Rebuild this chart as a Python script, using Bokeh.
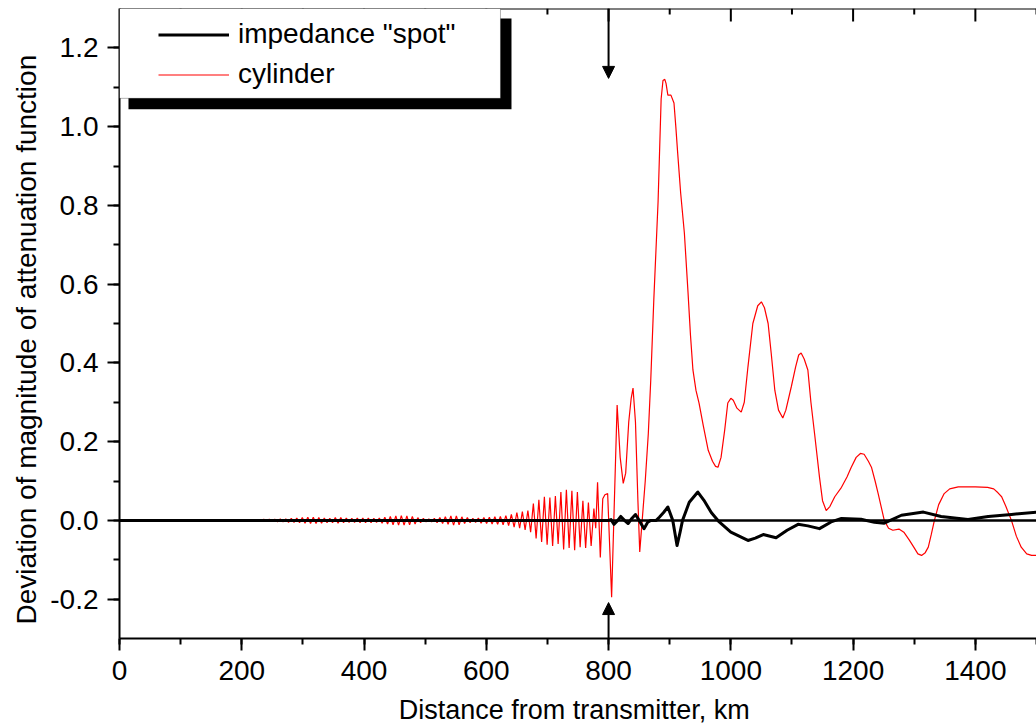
from bokeh.plotting import figure
from bokeh.models import (Range1d, SingleIntervalTicker, NumeralTickFormatter,
                          BasicTickFormatter, Span, Arrow, NormalHead, BoxAnnotation,
                          Legend, LegendItem, Title)
from bokeh.embed import file_html
from bokeh.resources import INLINE

# ---------------- data ----------------
x_start, x_end = 0, 1500
y_start, y_end = -0.3, 1.3
marker_km = 800

# cylinder: flat lead-in
cyl_lead_x = [0, 195]
cyl_lead_y = [0.0, 0.0]

# cylinder: oscillating part (successive extrema)
osc_x = [
    200.0, 204.5, 209.0, 213.5, 218.0, 222.5, 227.0, 231.5, 236.0, 240.5,
    245.0, 249.5, 254.0, 258.5, 263.0, 267.5, 272.0, 276.5, 281.0, 285.5,
    290.0, 294.5, 299.0, 303.5, 308.0, 312.5, 317.0, 321.5, 326.0, 330.5,
    335.0, 339.5, 344.0, 348.5, 353.0, 357.5, 362.0, 366.5, 371.0, 375.5,
    380.0, 384.5, 389.0, 393.5, 398.0, 402.5, 407.0, 411.5, 416.0, 420.5,
    425.0, 429.5, 434.0, 438.5, 443.0, 447.5, 452.0, 456.5, 461.0, 465.5,
    470.0, 474.5, 479.0, 483.5, 488.0, 492.5, 497.0, 501.5, 506.0, 510.5,
    515.0, 519.5, 524.0, 528.5, 533.0, 537.5, 542.0, 546.5, 551.0, 555.5,
    560.0, 564.5, 569.0, 573.5, 578.0, 582.5, 587.0, 591.5, 596.0, 600.5,
    605.0, 609.5, 614.0, 618.5, 623.0, 627.5, 632.0, 636.5, 641.0, 645.5,
    650.0, 654.5, 659.0, 663.5, 668.0, 672.5, 677.0, 681.5, 686.0, 690.5,
    695.0, 699.5, 704.0, 708.5, 713.0, 717.5, 722.0, 726.5, 731.0, 735.5,
    740.0, 744.5, 749.0, 753.5, 758.0, 762.5, 767.0, 771.5, 776.0, 779.0,
    782.0, 786.5, 790.5, 794.0, 798.5, 805.0]
osc_y = [
    0.002, -0.002, 0.002, -0.002, 0.002, -0.002, 0.002, -0.002, 0.003, -0.003,
    0.003, -0.003, 0.003, -0.004, 0.004, -0.004, 0.004, -0.005, 0.005, -0.005,
    0.006, -0.006, 0.007, -0.007, 0.008, -0.008, 0.008, -0.008, 0.007, -0.007,
    0.006, -0.006, 0.005, -0.006, 0.007, -0.007, 0.007, -0.006, 0.006, -0.005,
    0.005, -0.005, 0.006, -0.006, 0.006, -0.006, 0.006, -0.006, 0.005, -0.005,
    0.006, -0.007, 0.008, -0.009, 0.010, -0.011, 0.011, -0.012, 0.012, -0.012,
    0.011, -0.011, 0.010, -0.009, 0.007, -0.006, 0.005, -0.004, 0.004, -0.004,
    0.005, -0.006, 0.007, -0.008, 0.009, -0.010, 0.011, -0.012, 0.011, -0.011,
    0.009, -0.008, 0.007, -0.006, 0.005, -0.005, 0.006, -0.007, 0.007, -0.008,
    0.008, -0.009, 0.009, -0.010, 0.010, -0.011, 0.012, -0.013, 0.015, -0.017,
    0.020, -0.020, 0.022, -0.024, 0.025, -0.030, 0.043, -0.046, 0.052, -0.055,
    0.060, -0.062, 0.058, -0.065, 0.062, -0.060, 0.072, -0.074, 0.078, -0.070,
    0.075, -0.076, 0.072, -0.068, 0.050, -0.070, 0.045, -0.065, 0.030, -0.020,
    0.097, -0.094, 0.055, 0.065, 0.068, -0.195]

# cylinder: main part beyond the marker
cyl_main_x = [814, 819, 824, 828, 833, 837, 840, 844, 848, 851,
              855, 860, 865, 869, 874, 881, 886, 889, 892, 894,
              897, 902, 907, 910, 913, 918, 924, 930, 934, 938,
              943, 948, 955, 963, 970, 975, 979, 984, 990, 995,
              1000, 1004, 1010, 1017, 1022, 1028, 1036, 1044, 1050, 1055,
              1061, 1066, 1072, 1078, 1085, 1090, 1099, 1106, 1111, 1115,
              1120, 1126, 1131, 1137, 1145, 1150, 1156, 1162, 1170, 1181,
              1190, 1197, 1205, 1212, 1218, 1225, 1230, 1236, 1241, 1251,
              1258, 1265, 1275, 1283, 1292, 1300, 1306, 1312, 1318, 1323,
              1328, 1333, 1340, 1349, 1358, 1372, 1400, 1420, 1430, 1437,
              1443, 1450, 1459, 1467, 1475, 1484, 1492, 1500]
cyl_main_y = [0.293, 0.16, 0.094, 0.12, 0.25, 0.31, 0.336, 0.25, 0.05, -0.08,
              0.0, 0.10, 0.22, 0.356, 0.56, 0.81, 1.07, 1.117, 1.12, 1.11,
              1.08, 1.08, 1.06, 1.0, 0.934, 0.83, 0.73, 0.578, 0.47, 0.382,
              0.33, 0.298, 0.24, 0.178, 0.15, 0.137, 0.135, 0.16, 0.23, 0.298,
              0.31, 0.305, 0.285, 0.275, 0.30, 0.39, 0.50, 0.545, 0.555, 0.54,
              0.50, 0.425, 0.33, 0.28, 0.26, 0.28, 0.34, 0.39, 0.42, 0.425,
              0.41, 0.382, 0.30, 0.22, 0.11, 0.05, 0.025, 0.035, 0.06, 0.084,
              0.11, 0.135, 0.16, 0.17, 0.168, 0.15, 0.135, 0.10, 0.068, 0.0,
              -0.02, -0.025, -0.022, -0.03, -0.05, -0.07, -0.085, -0.089, -0.082, -0.068,
              -0.035, 0.0, 0.04, 0.068, 0.08, 0.085, 0.085, 0.084, 0.08, 0.07,
              0.06, 0.035, 0.0, -0.04, -0.068, -0.085, -0.089, -0.089]

# impedance "spot"
spot_x = [0, 800, 804, 809, 815, 820, 826, 832, 838, 844,
          850, 858, 864, 869, 878, 883, 890, 897, 905, 912,
          917, 921, 932, 946, 956, 968, 981, 1000, 1028, 1040,
          1053, 1074, 1092, 1110, 1126, 1145, 1164, 1181, 1213, 1235,
          1251, 1279, 1315, 1344, 1388, 1421, 1459, 1500]
spot_y = [0, 0, 0.002, -0.01, 0.0, 0.01, 0.0, -0.008, 0.005, 0.015,
          0.0, -0.021, -0.005, 0.0, 0.0, 0.008, 0.02, 0.034, 0.0, -0.064,
          -0.03, 0.0, 0.046, 0.072, 0.051, 0.02, -0.004, -0.03, -0.051, -0.045,
          -0.036, -0.044, -0.025, -0.01, -0.014, -0.021, -0.004, 0.005, 0.003, -0.005,
          -0.007, 0.013, 0.021, 0.01, 0.002, 0.01, 0.015, 0.021]

labels = ['impedance "spot"', "cylinder"]
x_title = "Distance from transmitter,  km"
y_title = "Deviation of magnitude of attenuation function"
top_major_ticks = [0, 200, 400, 600, 800, 1000, 1200, 1400]
top_minor_ticks = [100, 300, 500, 700, 900, 1100, 1300, 1500]

cyl_x = cyl_lead_x + osc_x + cyl_main_x
cyl_y = cyl_lead_y + osc_y + cyl_main_y

# ---------------- figure ----------------
FONT = "Liberation Sans"
FS = "28px"
W, H = 1036, 727
BL, BT, BB = 119, 8, 88
frame_h = H - BT - BB
px_to_y = (y_end - y_start) / frame_h

p = figure(width=W, height=H, output_backend="svg", toolbar_location=None,
           x_range=Range1d(x_start, x_end), y_range=Range1d(y_start, y_end),
           min_border_left=BL, min_border_right=0, min_border_top=BT, min_border_bottom=BB)
p.grid.visible = False
p.outline_line_color = None
p.background_fill_color = "white"
p.border_fill_color = "white"

ax = p.xaxis[0]
ax.ticker = SingleIntervalTicker(interval=200, num_minor_ticks=2)
ax.formatter = BasicTickFormatter()
ay = p.yaxis[0]
ay.ticker = SingleIntervalTicker(interval=0.2, num_minor_ticks=2)
ay.formatter = NumeralTickFormatter(format="0.0")

for a in (ax, ay):
    a.axis_line_width = 2
    a.major_tick_line_width = 2
    a.minor_tick_line_width = 2
    a.major_tick_in = 0
    a.major_tick_out = 12
    a.minor_tick_in = 0
    a.minor_tick_out = 6
    a.major_label_text_font = FONT
    a.major_label_text_font_size = FS
    a.major_label_text_color = "black"
    a.axis_line_color = "black"
    a.major_tick_line_color = "black"
    a.minor_tick_line_color = "black"

ax.major_label_standoff = 10
ax.axis_label = x_title
ax.axis_label_text_font = FONT
ax.axis_label_text_font_size = "27px"
ax.axis_label_text_font_style = "normal"
ax.axis_label_text_color = "black"
ax.axis_label_standoff = 12
ay.major_label_standoff = 9

# y-axis title as a side title (sits slightly below centre, as in the original)
p.add_layout(Title(text=y_title, align="left", offset=14, standoff=12,
                   text_font=FONT, text_font_size="28px", text_font_style="normal",
                   text_color="black"), "left")

# curves
r_cyl = p.line(cyl_x, cyl_y, line_width=1.2, color="red")
p.add_layout(Span(location=0, dimension="width", line_color="black", line_width=2.5))
r_spot = p.line(spot_x, spot_y, line_width=3, color="black", line_join="round")

# top frame line with inward ticks
p.add_layout(Span(location=y_end, dimension="width", line_color="black", line_width=2))
p.segment(x0=top_major_ticks, y0=[y_end] * len(top_major_ticks),
          x1=top_major_ticks, y1=[y_end - 13 * px_to_y] * len(top_major_ticks),
          line_color="black", line_width=2)
p.segment(x0=top_minor_ticks, y0=[y_end] * len(top_minor_ticks),
          x1=top_minor_ticks, y1=[y_end - 6 * px_to_y] * len(top_minor_ticks),
          line_color="black", line_width=2)

# arrows marking the 800 km position
p.add_layout(Arrow(end=NormalHead(size=12, fill_color="black", line_color="black"),
                   x_start=marker_km, y_start=y_end, x_end=marker_km, y_end=1.1225,
                   line_width=2, line_color="black"))
p.add_layout(Arrow(end=NormalHead(size=12, fill_color="black", line_color="black"),
                   x_start=marker_km, y_start=y_start, x_end=marker_km, y_end=-0.2087,
                   line_width=2, line_color="black"))

# legend frame with shadow
p.add_layout(BoxAnnotation(left=14.7, right=641.2, top=1.2746, bottom=1.0439,
                           fill_color="black", fill_alpha=1, line_color=None))
p.add_layout(BoxAnnotation(left=0, right=623.2, top=1.3, bottom=1.0718,
                           fill_color="white", fill_alpha=1, line_color="black", line_width=1))

legend = Legend(items=[LegendItem(label=labels[0], renderers=[r_spot]),
                       LegendItem(label=labels[1], renderers=[r_cyl])],
                location=(39, 548), padding=0, spacing=8, margin=0,
                glyph_width=71, glyph_height=31, label_height=31, label_standoff=9,
                label_text_font=FONT, label_text_font_size=FS, label_text_color="black",
                background_fill_alpha=0, border_line_color=None)
p.add_layout(legend)

open("out.html", "w").write(file_html(p, INLINE))
